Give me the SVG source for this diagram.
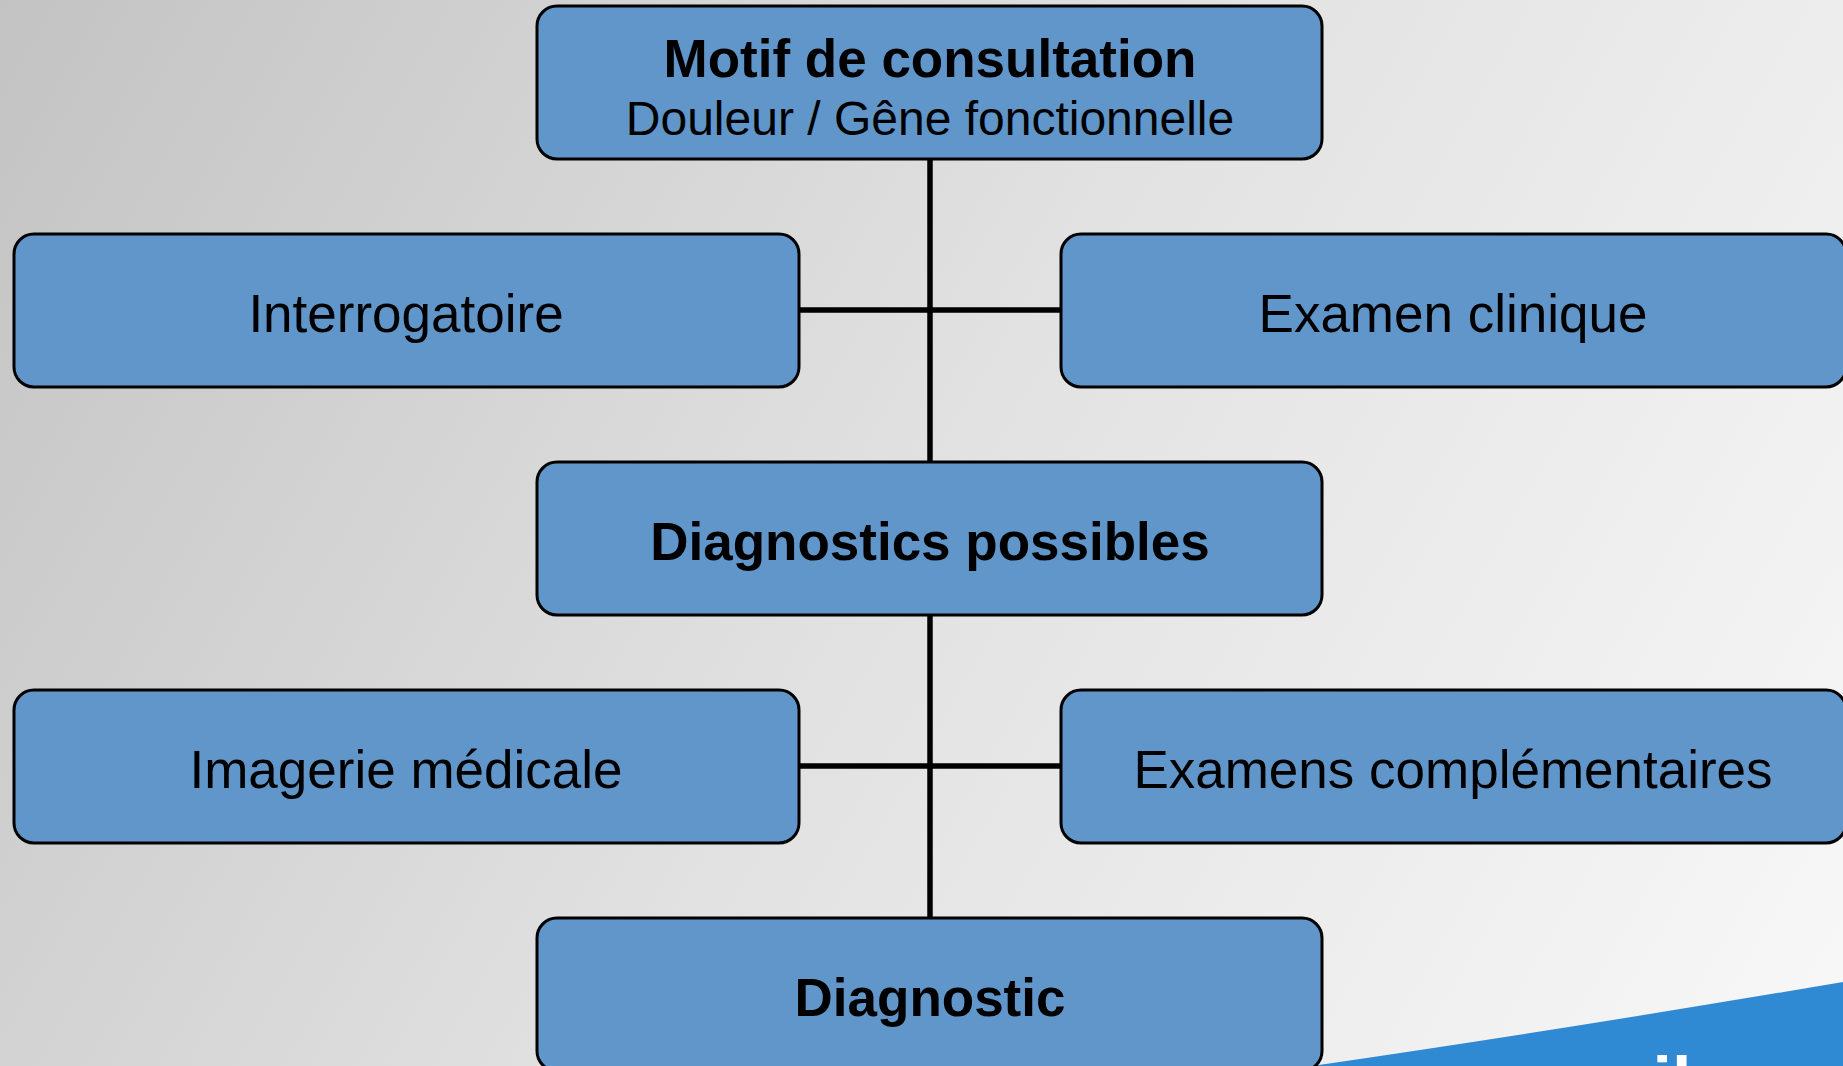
<svg xmlns="http://www.w3.org/2000/svg" width="1843" height="1066" viewBox="0 0 1843 1066">
<defs>
<linearGradient id="bg" x1="0" y1="0" x2="1843" y2="1066" gradientUnits="userSpaceOnUse">
<stop offset="0" stop-color="#C3C3C3"/>
<stop offset="0.5" stop-color="#E2E2E2"/>
<stop offset="1" stop-color="#F8F8F8"/>
</linearGradient>
<style>
.box{fill:#6096C9;stroke:#000;stroke-width:3}
.t{font-family:"Liberation Sans",Arial,sans-serif;font-size:53px;fill:#000;text-anchor:middle}
.b{font-weight:bold}
.conn line{stroke:#000;stroke-width:5.5}
</style>
</defs>
<rect x="0" y="0" width="1843" height="1066" fill="url(#bg)"/>
<path d="M1312 1066 Q1560 1030 1843 982 L1843 1066 Z" fill="#2F89D3"/>
<text x="1672" y="1106" font-family="Liberation Sans,Arial,sans-serif" font-weight="bold" font-size="70" fill="#FFFFFF" text-anchor="middle">il</text>
<g id="connectors" class="conn">
<line x1="930" y1="159" x2="930" y2="462"/>
<line x1="798" y1="310" x2="1061" y2="310"/>
<line x1="930" y1="615" x2="930" y2="918"/>
<line x1="798" y1="766" x2="1061" y2="766"/>
</g>
<g id="motif">
<rect class="box" x="537" y="6" width="785" height="153" rx="20"/>
<text class="t b" x="930" y="77">Motif de consultation</text>
<text class="t" x="930" y="135" style="font-size:48px">Douleur / Gêne fonctionnelle</text>
</g>
<g id="interrogatoire">
<rect class="box" x="14" y="234" width="785" height="153" rx="20"/>
<text class="t" x="406" y="332">Interrogatoire</text>
</g>
<g id="examen-clinique">
<rect class="box" x="1061" y="234" width="785" height="153" rx="20"/>
<text class="t" x="1453" y="332">Examen clinique</text>
</g>
<g id="diagnostics-possibles">
<rect class="box" x="537" y="462" width="785" height="153" rx="20"/>
<text class="t b" x="930" y="560">Diagnostics possibles</text>
</g>
<g id="imagerie">
<rect class="box" x="14" y="690" width="785" height="153" rx="20"/>
<text class="t" x="406" y="788">Imagerie médicale</text>
</g>
<g id="examens-complementaires">
<rect class="box" x="1061" y="690" width="785" height="153" rx="20"/>
<text class="t" x="1453" y="788">Examens complémentaires</text>
</g>
<g id="diagnostic">
<rect class="box" x="537" y="918" width="785" height="153" rx="20"/>
<text class="t b" x="930" y="1016">Diagnostic</text>
</g>
</svg>
